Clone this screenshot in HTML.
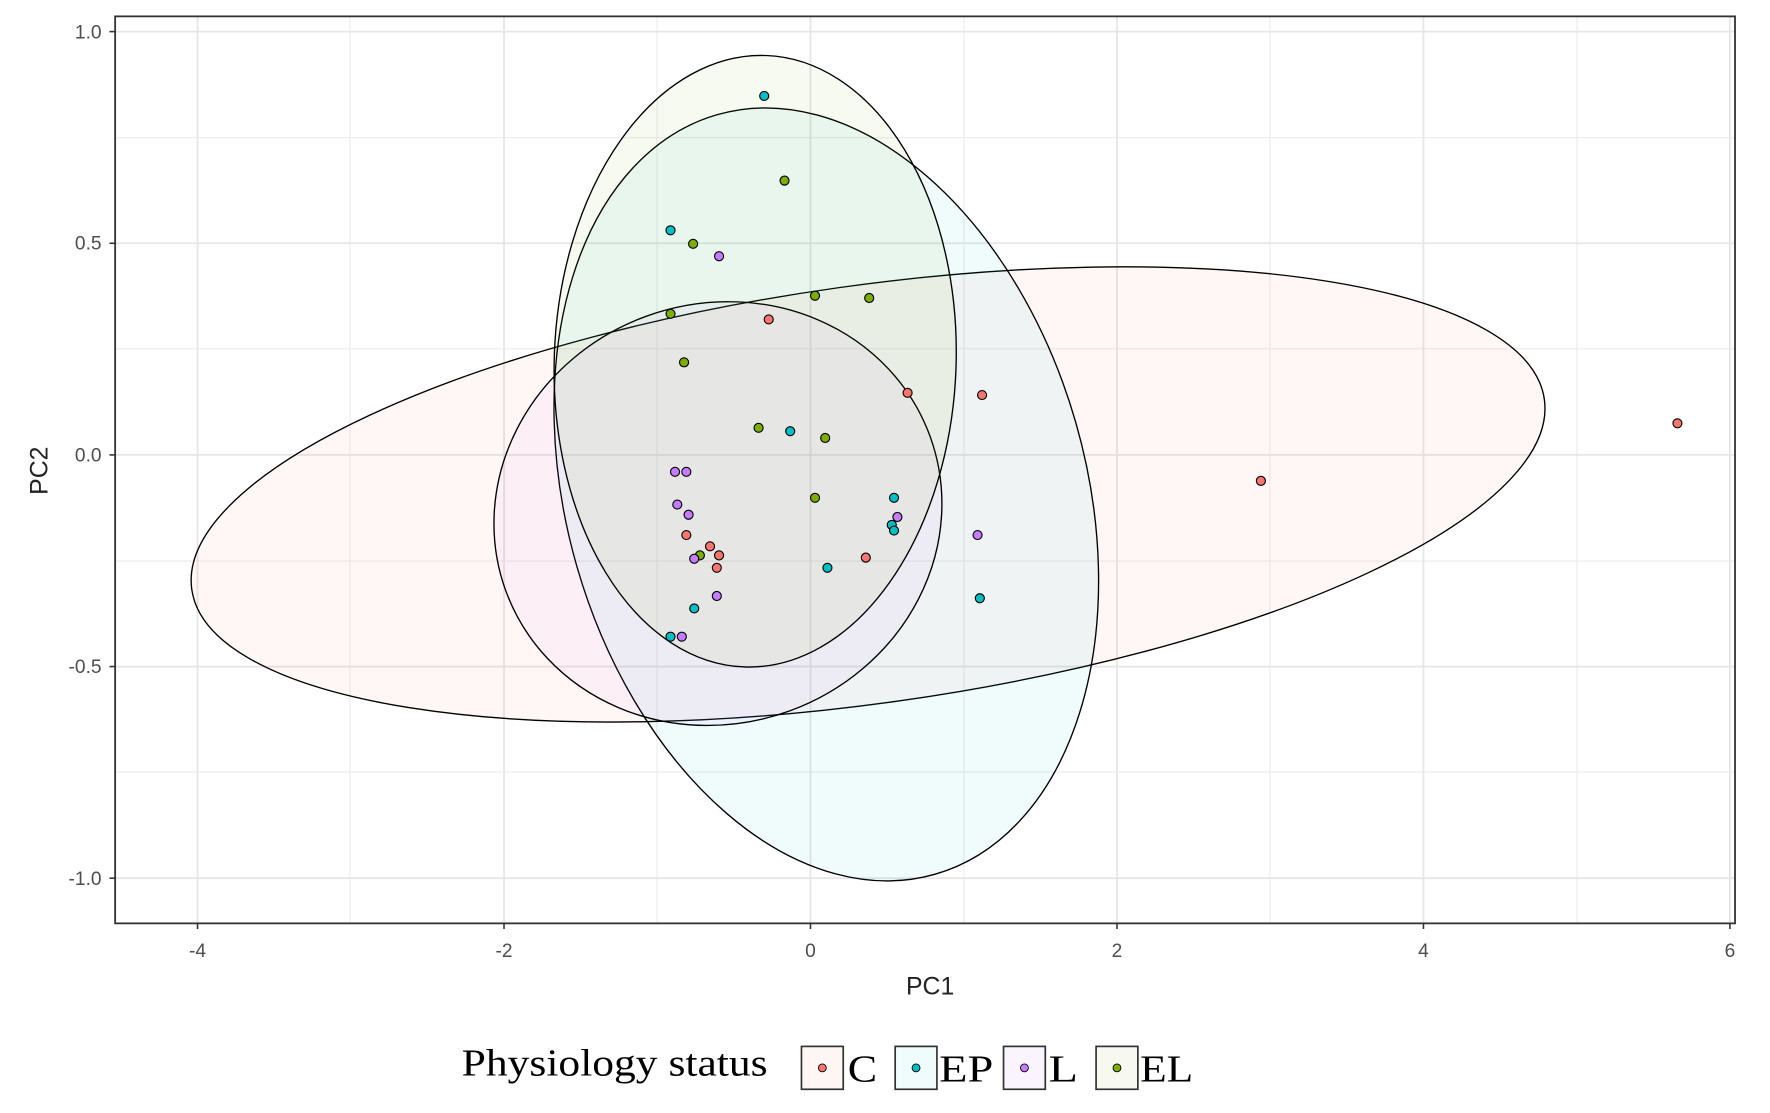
<!DOCTYPE html>
<html><head><meta charset="utf-8"><style>html,body{margin:0;padding:0;background:#fff}svg{display:block}</style></head>
<body>
<svg width="1770" height="1113" viewBox="0 0 1568 986" preserveAspectRatio="none" xmlns="http://www.w3.org/2000/svg">
<rect x="0" y="0" width="1568" height="986" fill="#fff"/>
<g stroke="#ebebeb" stroke-width="1">
<line x1="102" x2="1537" y1="122" y2="122"/><line x1="102" x2="1537" y1="309" y2="309"/><line x1="102" x2="1537" y1="497" y2="497"/><line x1="102" x2="1537" y1="684" y2="684"/>
<line y1="14" y2="818" x1="310" x2="310"/><line y1="14" y2="818" x1="582" x2="582"/><line y1="14" y2="818" x1="854" x2="854"/><line y1="14" y2="818" x1="1125" x2="1125"/><line y1="14" y2="818" x1="1397" x2="1397"/>
</g>
<g stroke="#e6e6e6" stroke-width="1.6">
<line x1="102" x2="1537" y1="28" y2="28"/><line x1="102" x2="1537" y1="215.5" y2="215.5"/><line x1="102" x2="1537" y1="403" y2="403"/><line x1="102" x2="1537" y1="590.5" y2="590.5"/><line x1="102" x2="1537" y1="778" y2="778"/>
<line y1="14" y2="818" x1="175" x2="175"/><line y1="14" y2="818" x1="446.5" x2="446.5"/><line y1="14" y2="818" x1="718" x2="718"/><line y1="14" y2="818" x1="989.5" x2="989.5"/><line y1="14" y2="818" x1="1261" x2="1261"/><line y1="14" y2="818" x1="1532.5" x2="1532.5"/>
</g>
<g stroke="#000" stroke-width="1.2">
<ellipse cx="769" cy="438" rx="605" ry="185" transform="rotate(-8 769 438)" fill="rgba(248,118,109,0.06)"/>
<ellipse cx="732" cy="438" rx="230" ry="350" transform="rotate(-16 732 438)" fill="rgba(0,191,196,0.06)"/>
<ellipse cx="636" cy="455" rx="200" ry="186" transform="rotate(-20 636 455)" fill="rgba(199,124,255,0.06)"/>
<ellipse cx="669" cy="320" rx="178" ry="271" transform="rotate(2 669 320)" fill="rgba(124,174,0,0.06)"/>
</g>
<g stroke="#000" stroke-width="1">
<g fill="#00bfc4">
<circle cx="677" cy="85" r="4"/><circle cx="594" cy="204" r="4"/><circle cx="700" cy="382" r="4"/><circle cx="792" cy="441" r="4"/><circle cx="790" cy="465" r="4"/><circle cx="792" cy="470" r="4"/><circle cx="733" cy="503" r="4"/><circle cx="868" cy="530" r="4"/><circle cx="615" cy="539" r="4"/><circle cx="594" cy="564" r="4"/>
</g>
<g fill="#7cae00">
<circle cx="695" cy="160" r="4"/><circle cx="614" cy="216" r="4"/><circle cx="594" cy="278" r="4"/><circle cx="722" cy="262" r="4"/><circle cx="770" cy="264" r="4"/><circle cx="606" cy="321" r="4"/><circle cx="672" cy="379" r="4"/><circle cx="731" cy="388" r="4"/><circle cx="722" cy="441" r="4"/><circle cx="620" cy="492" r="4"/>
</g>
<g fill="#c77cff">
<circle cx="637" cy="227" r="4"/><circle cx="598" cy="418" r="4"/><circle cx="608" cy="418" r="4"/><circle cx="600" cy="447" r="4"/><circle cx="610" cy="456" r="4"/><circle cx="795" cy="458" r="4"/><circle cx="866" cy="474" r="4"/><circle cx="615" cy="495" r="4"/><circle cx="635" cy="528" r="4"/><circle cx="604" cy="564" r="4"/>
</g>
<g fill="#f8766d">
<circle cx="681" cy="283" r="4"/><circle cx="804" cy="348" r="4"/><circle cx="870" cy="350" r="4"/><circle cx="1486" cy="375" r="4"/><circle cx="1117" cy="426" r="4"/><circle cx="608" cy="474" r="4"/><circle cx="629" cy="484" r="4"/><circle cx="637" cy="492" r="4"/><circle cx="635" cy="503" r="4"/><circle cx="767" cy="494" r="4"/>
</g>
</g>
<rect x="102" y="14.5" width="1435" height="803.5" fill="none" stroke="#333" stroke-width="1.6"/>
<g stroke="#333" stroke-width="1.4">
<line x1="97" x2="102" y1="28" y2="28"/><line x1="97" x2="102" y1="215.5" y2="215.5"/><line x1="97" x2="102" y1="403" y2="403"/><line x1="97" x2="102" y1="590.5" y2="590.5"/><line x1="97" x2="102" y1="778" y2="778"/>
<line y1="818" y2="823" x1="175" x2="175"/><line y1="818" y2="823" x1="446.5" x2="446.5"/><line y1="818" y2="823" x1="718" x2="718"/><line y1="818" y2="823" x1="989.5" x2="989.5"/><line y1="818" y2="823" x1="1261" x2="1261"/><line y1="818" y2="823" x1="1532.5" x2="1532.5"/>
</g>
<g font-family="Liberation Sans, sans-serif" font-size="17" fill="#4d4d4d" text-anchor="end">
<text x="90" y="34">1.0</text><text x="90" y="221">0.5</text><text x="90" y="409">0.0</text><text x="90" y="596">-0.5</text><text x="90" y="784">-1.0</text>
</g>
<g font-family="Liberation Sans, sans-serif" font-size="17" fill="#4d4d4d" text-anchor="middle">
<text x="175" y="848">-4</text><text x="446.5" y="848">-2</text><text x="718" y="848">0</text><text x="989.5" y="848">2</text><text x="1261" y="848">4</text><text x="1532.5" y="848">6</text>
</g>
<text x="824" y="881" font-family="Liberation Sans, sans-serif" font-size="22" fill="#222" text-anchor="middle">PC1</text>
<text x="0" y="0" transform="translate(42 417) rotate(-90)" font-family="Liberation Sans, sans-serif" font-size="22" fill="#222" text-anchor="middle">PC2</text>
<g font-family="Liberation Serif, serif" font-size="34" fill="#000">
<text x="409" y="953" textLength="271" lengthAdjust="spacingAndGlyphs">Physiology status</text>
<text x="751" y="958" textLength="26" lengthAdjust="spacingAndGlyphs">C</text><text x="832" y="958" textLength="48" lengthAdjust="spacingAndGlyphs">EP</text><text x="929" y="958" textLength="26" lengthAdjust="spacingAndGlyphs">L</text><text x="1010" y="958" textLength="47" lengthAdjust="spacingAndGlyphs">EL</text>
</g>
<g stroke="#333" stroke-width="1.5">
<rect x="710" y="927" width="37" height="38" fill="#fef6f5"/><rect x="793" y="927" width="37" height="38" fill="#f0fbfc"/><rect x="889" y="927" width="37" height="38" fill="#f9f4ff"/><rect x="971" y="927" width="37" height="38" fill="#f7f9f0"/>
</g>
<g stroke="#000" stroke-width="0.8">
<circle cx="728.5" cy="946" r="3.5" fill="#f8766d"/><circle cx="811.5" cy="946" r="3.5" fill="#00bfc4"/><circle cx="907.5" cy="946" r="3.5" fill="#c77cff"/><circle cx="989.5" cy="946" r="3.5" fill="#7cae00"/>
</g>
</svg>
</body></html>
